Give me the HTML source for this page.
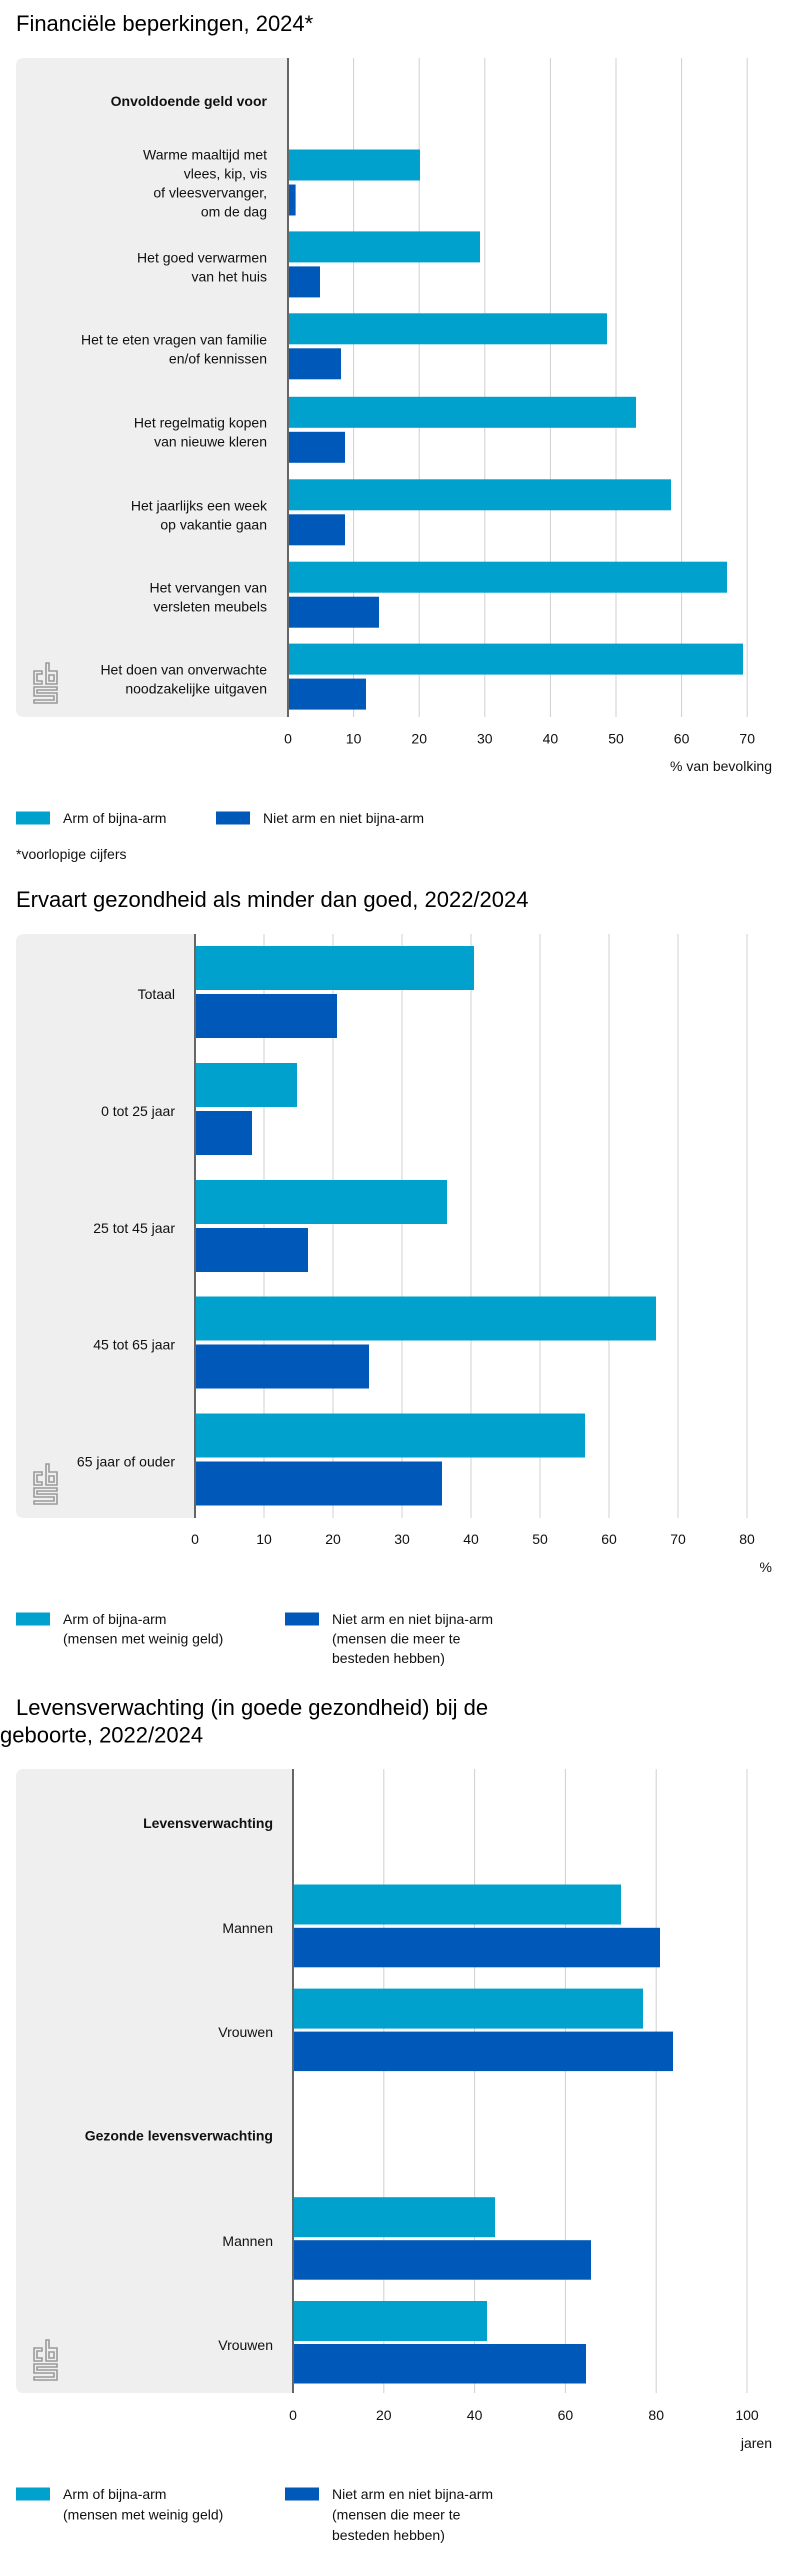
<!DOCTYPE html>
<html><head><meta charset="utf-8"><style>
html,body{margin:0;padding:0;background:#fff;}
svg{display:block;font-family:"Liberation Sans",Arial,sans-serif;}
</style></head><body>
<svg width="808" height="2560" viewBox="0 0 808 2560" xmlns="http://www.w3.org/2000/svg">
<defs>
<g id="logo" fill="none" stroke="#9a9a9a" stroke-width="1.6">
<path d="M2 10 H10 V13 H5 V20 H10 V23 H2 Z"/>
<path d="M14 2 H17 V10 H25 V23 H14 Z M17 14 V20 H22 V14 Z"/>
<path d="M2 26 H25 V29 H5 V32 H25 V42 H2 V39 H22 V35 H2 Z"/>
</g>
</defs>

<!-- ===== Chart 1 ===== -->
<text x="16" y="31" font-size="22" fill="#000">Financiële beperkingen, 2024*</text>
<path d="M24 58 H288 V717 H24 Q16 717 16 709 V66 Q16 58 24 58 Z" fill="#efefef"/>
<g stroke="#d0d0d0" stroke-width="1">
<line x1="353.6" y1="58" x2="353.6" y2="717"/><line x1="419.2" y1="58" x2="419.2" y2="717"/>
<line x1="484.8" y1="58" x2="484.8" y2="717"/><line x1="550.4" y1="58" x2="550.4" y2="717"/>
<line x1="616" y1="58" x2="616" y2="717"/><line x1="681.6" y1="58" x2="681.6" y2="717"/>
<line x1="747.2" y1="58" x2="747.2" y2="717"/>
</g>
<g fill="#00a1cd">
<rect x="289" y="149.5" width="131" height="31"/>
<rect x="289" y="231.4" width="191" height="31"/>
<rect x="289" y="313.3" width="318" height="31"/>
<rect x="289" y="396.8" width="347" height="31"/>
<rect x="289" y="479.3" width="382" height="31"/>
<rect x="289" y="561.7" width="438" height="31"/>
<rect x="289" y="643.6" width="454" height="31"/>
</g>
<g fill="#0058b8">
<rect x="289" y="184.5" width="6.6" height="31"/>
<rect x="289" y="266.4" width="31" height="31"/>
<rect x="289" y="348.3" width="52" height="31"/>
<rect x="289" y="431.8" width="56" height="31"/>
<rect x="289" y="514.3" width="56" height="31"/>
<rect x="289" y="596.7" width="90" height="31"/>
<rect x="289" y="678.6" width="77" height="31"/>
</g>
<line x1="288" y1="58" x2="288" y2="717" stroke="#666" stroke-width="2"/>
<g font-size="14" fill="#111" text-anchor="end">
<text x="267" y="106" font-weight="bold">Onvoldoende geld voor</text>
<text x="267" y="159.5">Warme maaltijd met</text>
<text x="267" y="178.5">vlees, kip, vis</text>
<text x="267" y="197.5">of vleesvervanger,</text>
<text x="267" y="216.5">om de dag</text>
<text x="267" y="262.5">Het goed verwarmen</text>
<text x="267" y="281.5">van het huis</text>
<text x="267" y="344.5">Het te eten vragen van familie</text>
<text x="267" y="363.5">en/of kennissen</text>
<text x="267" y="427.5">Het regelmatig kopen</text>
<text x="267" y="446.5">van nieuwe kleren</text>
<text x="267" y="510.5">Het jaarlijks een week</text>
<text x="267" y="529.5">op vakantie gaan</text>
<text x="267" y="592.5">Het vervangen van</text>
<text x="267" y="611.5">versleten meubels</text>
<text x="267" y="674.5">Het doen van onverwachte</text>
<text x="267" y="693.5">noodzakelijke uitgaven</text>
</g>
<use href="#logo" x="32" y="661"/>
<g font-size="14" fill="#111" text-anchor="middle">
<text x="288" y="743.5">0</text><text x="353.6" y="743.5">10</text><text x="419.2" y="743.5">20</text>
<text x="484.8" y="743.5">30</text><text x="550.4" y="743.5">40</text><text x="616" y="743.5">50</text>
<text x="681.6" y="743.5">60</text><text x="747.2" y="743.5">70</text>
</g>
<text x="772" y="771" font-size="14" fill="#111" text-anchor="end">% van bevolking</text>
<rect x="16" y="811.5" width="34" height="13" fill="#00a1cd"/>
<text x="63" y="823" font-size="14" fill="#111">Arm of bijna-arm</text>
<rect x="216" y="811.5" width="34" height="13" fill="#0058b8"/>
<text x="263" y="823" font-size="14" fill="#111">Niet arm en niet bijna-arm</text>
<text x="16" y="859" font-size="14" fill="#111">*voorlopige cijfers</text>

<!-- ===== Chart 2 ===== -->
<text x="16" y="907" font-size="22" fill="#000">Ervaart gezondheid als minder dan goed, 2022/2024</text>
<path d="M24 934 H195 V1518 H24 Q16 1518 16 1510 V942 Q16 934 24 934 Z" fill="#efefef"/>
<g stroke="#d0d0d0" stroke-width="1">
<line x1="264" y1="934" x2="264" y2="1518"/><line x1="333" y1="934" x2="333" y2="1518"/>
<line x1="402" y1="934" x2="402" y2="1518"/><line x1="471" y1="934" x2="471" y2="1518"/>
<line x1="540" y1="934" x2="540" y2="1518"/><line x1="609" y1="934" x2="609" y2="1518"/>
<line x1="678" y1="934" x2="678" y2="1518"/><line x1="747" y1="934" x2="747" y2="1518"/>
</g>
<g fill="#00a1cd">
<rect x="196" y="946" width="278" height="44"/>
<rect x="196" y="1063" width="101" height="44"/>
<rect x="196" y="1180" width="251" height="44"/>
<rect x="196" y="1296.5" width="460" height="44"/>
<rect x="196" y="1413.5" width="389" height="44"/>
</g>
<g fill="#0058b8">
<rect x="196" y="994" width="141" height="44"/>
<rect x="196" y="1111" width="56" height="44"/>
<rect x="196" y="1228" width="112" height="44"/>
<rect x="196" y="1344.5" width="173" height="44"/>
<rect x="196" y="1461.5" width="246" height="44"/>
</g>
<line x1="195" y1="934" x2="195" y2="1518" stroke="#666" stroke-width="2"/>
<g font-size="14" fill="#111" text-anchor="end">
<text x="175" y="999">Totaal</text>
<text x="175" y="1116">0 tot 25 jaar</text>
<text x="175" y="1233">25 tot 45 jaar</text>
<text x="175" y="1349.5">45 tot 65 jaar</text>
<text x="175" y="1466.5">65 jaar of ouder</text>
</g>
<use href="#logo" x="32" y="1462"/>
<g font-size="14" fill="#111" text-anchor="middle">
<text x="195" y="1544">0</text><text x="264" y="1544">10</text><text x="333" y="1544">20</text>
<text x="402" y="1544">30</text><text x="471" y="1544">40</text><text x="540" y="1544">50</text>
<text x="609" y="1544">60</text><text x="678" y="1544">70</text><text x="747" y="1544">80</text>
</g>
<text x="772" y="1572" font-size="14" fill="#111" text-anchor="end">%</text>
<rect x="16" y="1612.5" width="34" height="13" fill="#00a1cd"/>
<text x="63" y="1624" font-size="14" fill="#111">Arm of bijna-arm</text>
<text x="63" y="1643.5" font-size="14" fill="#111">(mensen met weinig geld)</text>
<rect x="285" y="1612.5" width="34" height="13" fill="#0058b8"/>
<text x="332" y="1624" font-size="14" fill="#111">Niet arm en niet bijna-arm</text>
<text x="332" y="1643.5" font-size="14" fill="#111">(mensen die meer te</text>
<text x="332" y="1663" font-size="14" fill="#111">besteden hebben)</text>

<!-- ===== Chart 3 ===== -->
<text x="16" y="1715" font-size="22" fill="#000">Levensverwachting (in goede gezondheid) bij de</text>
<text x="0" y="1742.5" font-size="22" fill="#000">geboorte, 2022/2024</text>
<path d="M24 1769 H293 V2393 H24 Q16 2393 16 2385 V1777 Q16 1769 24 1769 Z" fill="#efefef"/>
<g stroke="#d0d0d0" stroke-width="1">
<line x1="383.8" y1="1769" x2="383.8" y2="2393"/><line x1="474.6" y1="1769" x2="474.6" y2="2393"/>
<line x1="565.4" y1="1769" x2="565.4" y2="2393"/><line x1="656.2" y1="1769" x2="656.2" y2="2393"/>
<line x1="747" y1="1769" x2="747" y2="2393"/>
</g>
<g fill="#00a1cd">
<rect x="294" y="1884.5" width="327" height="40"/>
<rect x="294" y="1988.6" width="349" height="40"/>
<rect x="294" y="2197.2" width="201" height="40"/>
<rect x="294" y="2301" width="193" height="40"/>
</g>
<g fill="#0058b8">
<rect x="294" y="1927.8" width="366" height="39.5"/>
<rect x="294" y="2031.6" width="379" height="39.5"/>
<rect x="294" y="2240.2" width="297" height="39.5"/>
<rect x="294" y="2344" width="292" height="39.5"/>
</g>
<line x1="293" y1="1769" x2="293" y2="2393" stroke="#666" stroke-width="2"/>
<g font-size="14" fill="#111" text-anchor="end">
<text x="273" y="1828" font-weight="bold">Levensverwachting</text>
<text x="273" y="1933">Mannen</text>
<text x="273" y="2037">Vrouwen</text>
<text x="273" y="2140.5" font-weight="bold">Gezonde levensverwachting</text>
<text x="273" y="2246">Mannen</text>
<text x="273" y="2350">Vrouwen</text>
</g>
<use href="#logo" x="32" y="2338"/>
<g font-size="14" fill="#111" text-anchor="middle">
<text x="293" y="2420">0</text><text x="383.8" y="2420">20</text><text x="474.6" y="2420">40</text>
<text x="565.4" y="2420">60</text><text x="656.2" y="2420">80</text><text x="747" y="2420">100</text>
</g>
<text x="772" y="2448" font-size="14" fill="#111" text-anchor="end">jaren</text>
<rect x="16" y="2487.5" width="34" height="13" fill="#00a1cd"/>
<text x="63" y="2499" font-size="14" fill="#111">Arm of bijna-arm</text>
<text x="63" y="2519.5" font-size="14" fill="#111">(mensen met weinig geld)</text>
<rect x="285" y="2487.5" width="34" height="13" fill="#0058b8"/>
<text x="332" y="2499" font-size="14" fill="#111">Niet arm en niet bijna-arm</text>
<text x="332" y="2519.5" font-size="14" fill="#111">(mensen die meer te</text>
<text x="332" y="2540" font-size="14" fill="#111">besteden hebben)</text>
</svg>
</body></html>
